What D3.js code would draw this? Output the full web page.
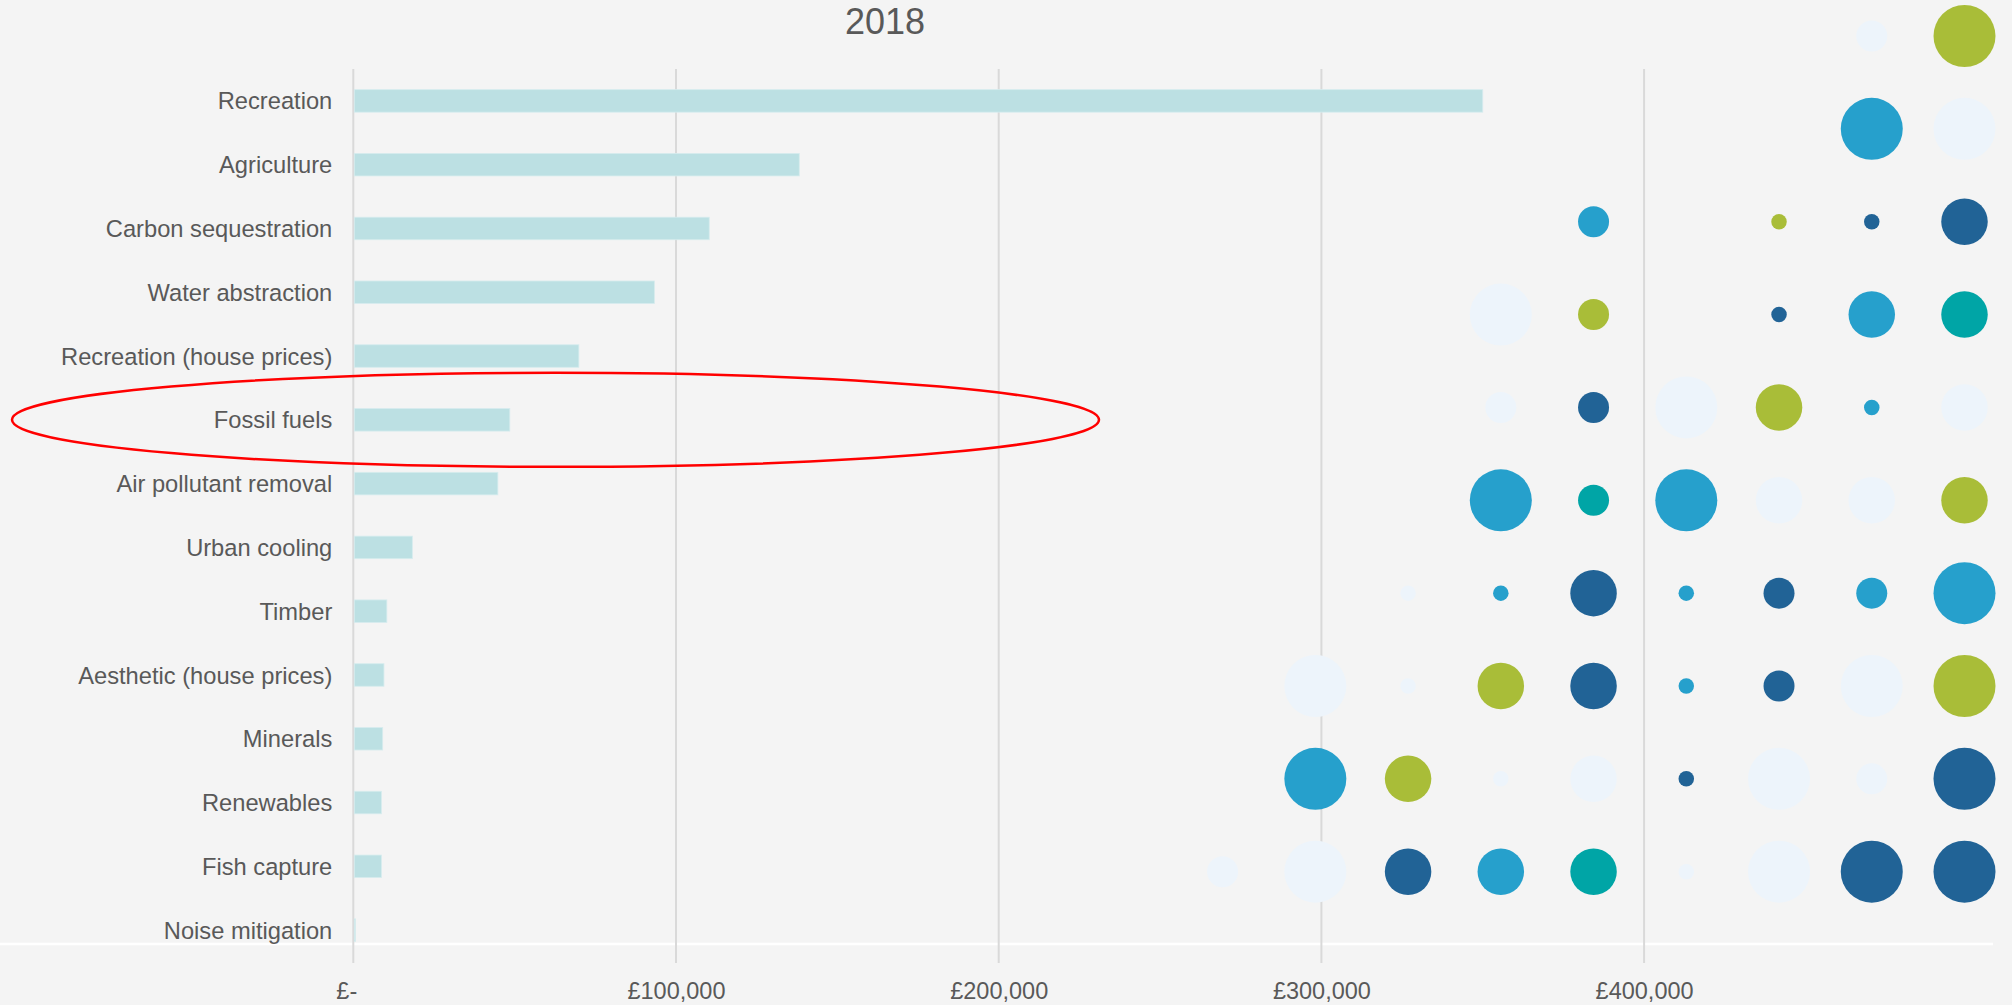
<!DOCTYPE html>
<html>
<head>
<meta charset="utf-8">
<script src="https://cdn.jsdelivr.net/npm/d3@7"></script>
<style>
  html, body { margin: 0; padding: 0; background: #F4F4F4; overflow: hidden; }
  svg { display: block; font-family: "Liberation Sans", Arial, sans-serif; }
</style>
</head>
<body>
<svg id="chart" width="2012" height="1005"></svg>
<script>
// ---------- data ----------
const title = "2018";
const categories = [
  "Recreation", "Agriculture", "Carbon sequestration", "Water abstraction",
  "Recreation (house prices)", "Fossil fuels", "Air pollutant removal",
  "Urban cooling", "Timber", "Aesthetic (house prices)", "Minerals",
  "Renewables", "Fish capture", "Noise mitigation"
];
const values = [350000, 138200, 110300, 93300, 69900, 48500, 44800,
                18300, 10400, 9500, 9100, 8700, 8700, 700];
const tickValues = [0, 100000, 200000, 300000, 400000];
const tickLabels = ["£-", "£100,000", "£200,000", "£300,000", "£400,000"];
const highlighted = "Fossil fuels";

// decorative bubble grid (rows top->bottom, columns left->right)
const bubbleSizes = [
  [0,0,0,0,0,0,0,2,4],
  [0,0,0,0,0,0,0,4,4],
  [0,0,0,0,2,0,1,1,3],
  [0,0,0,4,2,0,1,3,3],
  [0,0,0,2,2,4,3,1,3],
  [0,0,0,4,2,4,3,3,3],
  [0,0,1,1,3,1,2,2,4],
  [0,4,1,3,3,1,2,4,4],
  [0,4,3,1,3,1,4,2,4],
  [2,4,3,3,3,1,4,4,4]
];
const bubbleColors = [
  "-------LG",
  "-------BL",
  "----B-GDD",
  "---LG-DBT",
  "---LDLGBL",
  "---BTBLLG",
  "--LBDBDBB",
  "-LLGDBDLG",
  "-BGLLDLLD",
  "LLDBTLLDD"
];
const palette = { L: "#EDF4FB", G: "#A9BD38", B: "#26A0CC", D: "#216396", T: "#00A5A6" };

// ---------- drawing ----------
const svg = d3.select("#chart");
const textColor = "#595959";

const x = d3.scaleLinear().domain([0, 500000]).range([353.3, 1966.8]);
const y = d3.scaleBand().domain(categories).range([69, 962])
  .paddingInner(0.647).paddingOuter(0.3235);

// white baseline strip
svg.append("line")
  .attr("x1", 0).attr("x2", 1993).attr("y1", 944).attr("y2", 944)
  .attr("stroke", "#FFFFFF").attr("stroke-width", 2.5);

// gridlines
svg.append("g").selectAll("line").data(tickValues).join("line")
  .attr("x1", d => x(d)).attr("x2", d => x(d))
  .attr("y1", 69).attr("y2", 963)
  .attr("stroke", "#D9D9D9").attr("stroke-width", 2);

// bars
svg.append("g").selectAll("rect").data(categories).join("rect")
  .attr("x", x(0) + 1)
  .attr("y", d => y(d))
  .attr("width", (d, i) => Math.max(0, x(values[i]) - x(0) - 1))
  .attr("height", y.bandwidth())
  .attr("fill", "#BCE0E3")
  .attr("stroke", "#D6ECEE").attr("stroke-width", 0.8);

// category axis
const yAxis = svg.append("g")
  .attr("transform", `translate(${x(0)},0)`)
  .call(d3.axisLeft(y).tickSize(0).tickPadding(21));
yAxis.select(".domain").remove();
yAxis.selectAll("text")
  .attr("fill", textColor).style("font-size", "23.7px")
  .attr("dy", "0.36em");

// value axis
const xAxis = svg.append("g")
  .attr("transform", "translate(0,963)")
  .call(d3.axisBottom(x).tickValues(tickValues)
        .tickFormat((d, i) => tickLabels[i]).tickSize(0).tickPadding(19));
xAxis.select(".domain").remove();
xAxis.selectAll("text")
  .attr("fill", textColor).style("font-size", "23.5px")
  .attr("dx", d => d === 0 ? -7 : 0);

// title
svg.append("text")
  .attr("x", 885).attr("y", 34)
  .attr("text-anchor", "middle")
  .attr("fill", textColor).style("font-size", "36px")
  .text(title);

// bubble grid
const colX = d3.scaleLinear().domain([0, 8]).range([1222.6, 1964.5]);
const rowY = d3.scaleLinear().domain([0, 9]).range([36, 871.7]);
const rScale = d3.scaleLinear().domain([0, 4]).range([0, 31]);
const bubbles = [];
bubbleSizes.forEach((row, r) => row.forEach((s, c) => {
  if (s > 0) bubbles.push({ r, c, s, color: palette[bubbleColors[r][c]] });
}));
svg.append("g").selectAll("circle").data(bubbles).join("circle")
  .attr("cx", d => colX(d.c))
  .attr("cy", d => rowY(d.r))
  .attr("r", d => rScale(d.s))
  .attr("fill", d => d.color);

// highlight ellipse around the highlighted category
svg.append("ellipse")
  .attr("cx", 555.5)
  .attr("cy", y(highlighted) + y.bandwidth() / 2)
  .attr("rx", 543.5).attr("ry", 47)
  .attr("fill", "none")
  .attr("stroke", "#FF0000").attr("stroke-width", 2.5);
</script>
</body>
</html>
